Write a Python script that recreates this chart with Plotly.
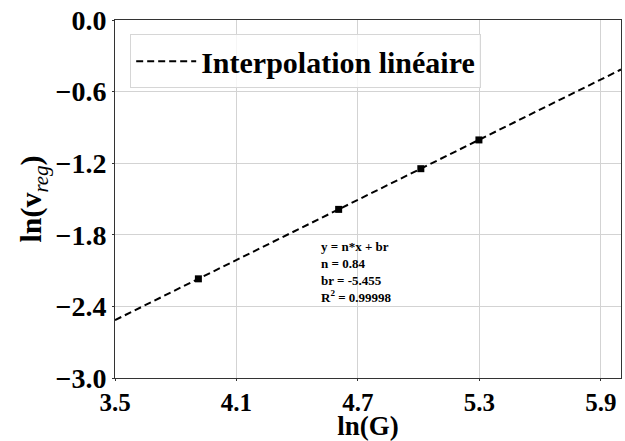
import plotly.graph_objects as go

# measured points: ln(G) vs ln(v_reg)
ln_G = [3.912, 4.605, 5.011, 5.298]
ln_v = [-2.169, -1.587, -1.246, -1.005]

# fit parameters (as shown on the chart)
n_slope = 0.84
b_r = -5.455
r2 = "0.99998"

x_fit = [3.5, 6.0]
y_fit = [n_slope * x + b_r for x in x_fit]

x_ticks = [3.5, 4.1, 4.7, 5.3, 5.9]
y_ticks = [0.0, -0.6, -1.2, -1.8, -2.4, -3.0]

FONT = "Liberation Serif"

fig = go.Figure()

fig.add_trace(go.Scatter(
    x=x_fit, y=y_fit, mode="lines",
    line=dict(color="black", width=2, dash="7px,4px"),
    name="<b>Interpolation linéaire</b>",
))
fig.add_trace(go.Scatter(
    x=ln_G, y=ln_v, mode="markers",
    marker=dict(symbol="square", color="black", size=7),
    showlegend=False,
))

fig.add_annotation(
    x=4.51, y=-1.82, xref="x", yref="y",
    xanchor="left", yanchor="top", align="left", showarrow=False,
    text=(f"<b>y = n*x + br</b><br><b>n = {n_slope}</b><br>"
          f"<b>br = {b_r}</b><br><b>R<sup>2</sup> = {r2}</b>"),
    font=dict(family=FONT, size=13, color="black"),
)

axis_common = dict(
    showgrid=True, gridcolor="#d3d3d3", gridwidth=1,
    showline=True, linecolor="#333", linewidth=1, mirror=True,
    zeroline=False, ticks="outside", ticklen=2, tickcolor="#333",
)

fig.update_layout(
    width=625, height=441,
    paper_bgcolor="white", plot_bgcolor="white",
    margin=dict(l=115, r=4, t=20, b=63, autoexpand=False),
    font=dict(family=FONT, color="black"),
    showlegend=True,
    legend=dict(
        x=0.03, y=0.96, xanchor="left", yanchor="top",
        itemwidth=60,
        bgcolor="rgba(255,255,255,0.8)", bordercolor="#d6d6d6", borderwidth=1,
        font=dict(family=FONT, size=30, color="black"),
    ),
    xaxis=dict(
        **axis_common, range=[3.5, 6.0], tickvals=x_ticks,
        ticktext=[f"<b>{v:.1f}</b>" for v in x_ticks],
        tickfont=dict(family=FONT, size=25, color="black"),
        title=dict(text="<b>ln(G)</b>", font=dict(family=FONT, size=27), standoff=4),
    ),
    yaxis=dict(
        **axis_common, range=[-3.0, 0.0], tickvals=y_ticks,
        ticktext=[f"<b>{v:.1f}</b>".replace("-", "\u2212") for v in y_ticks],
        tickfont=dict(family=FONT, size=28, color="black"),
        title=dict(text="<b>ln(v</b><sub><i>reg</i></sub><b>)</b>",
                   font=dict(family=FONT, size=30), standoff=4),
    ),
)

fig.write_html("out.html", config={"displayModeBar": False},
               post_script="document.body.style.margin='0';")
